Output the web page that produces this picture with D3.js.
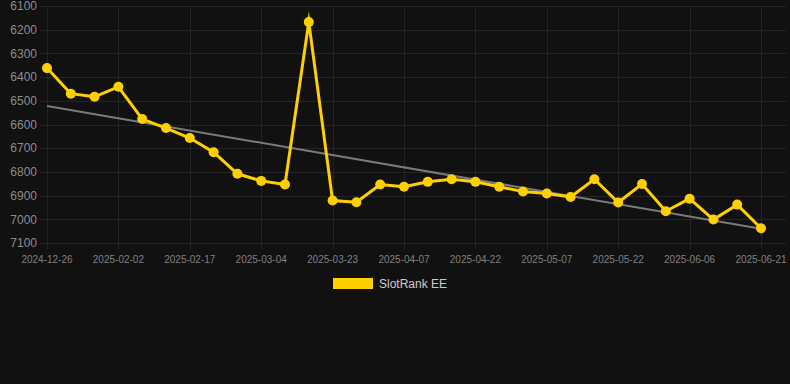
<!DOCTYPE html>
<html>
<head>
<meta charset="utf-8">
<script src="https://cdn.jsdelivr.net/npm/d3@7"></script>
<style>
  html, body { margin: 0; padding: 0; background: #111111; }
  svg { display: block; font-family: "Liberation Sans", Arial, sans-serif; }
</style>
</head>
<body>
<div id="chart"></div>
<script>
// data
const dates = [
  "2024-12-26", "2025-01-08", "2025-01-20", "2025-02-02", "2025-02-07", "2025-02-12",
  "2025-02-17", "2025-02-22", "2025-02-27", "2025-03-04", "2025-03-09", "2025-03-14",
  "2025-03-23", "2025-03-28", "2025-04-02", "2025-04-07", "2025-04-12", "2025-04-17",
  "2025-04-22", "2025-04-27", "2025-05-02", "2025-05-07", "2025-05-12", "2025-05-17",
  "2025-05-22", "2025-05-27", "2025-06-01", "2025-06-06", "2025-06-11", "2025-06-16",
  "2025-06-21"
];
const rank = [
  6362, 6470, 6483, 6441, 6577, 6615,
  6657, 6717, 6808, 6838, 6853, 6168,
  6921, 6928, 6853, 6863, 6842, 6831,
  6842, 6863, 6883, 6891, 6906, 6831,
  6929, 6851, 6966, 6913, 7001, 6938,
  7038
];
const trend = [6522, 7040]; // first and last date
const yTicks = [6100, 6200, 6300, 6400, 6500, 6600, 6700, 6800, 6900, 7000, 7100];
const seriesName = "SlotRank EE";

const width = 790, height = 384;
const gold = "#ffd000";

const svg = d3.select("#chart")
  .append("svg")
  .attr("width", width)
  .attr("height", height);

let x = d3.scalePoint()
  .domain(dates)
  .range([47, 761]);

let y = d3.scaleLinear()
  .domain([6100, 7100])
  .range([6, 243]);

// grid
svg.append("g")
  .selectAll("line")
  .data(yTicks)
  .enter()
  .append("line")
  .attr("x1", 40)
  .attr("x2", 786)
  .attr("y1", d => Math.round(y(d)) + 0.5)
  .attr("y2", d => Math.round(y(d)) + 0.5)
  .attr("stroke", "#242424");

let xTicks = dates.filter((d, i) => i % 3 === 0);

svg.append("g")
  .selectAll("line")
  .data(xTicks)
  .enter()
  .append("line")
  .attr("x1", d => Math.round(x(d)) + 0.5)
  .attr("x2", d => Math.round(x(d)) + 0.5)
  .attr("y1", y(6100))
  .attr("y2", y(7100) + 6)
  .attr("stroke", "#242424");

// y labels
svg.append("g")
  .selectAll("text")
  .data(yTicks)
  .enter()
  .append("text")
  .attr("x", 37)
  .attr("y", d => y(d))
  .attr("dy", "0.35em")
  .attr("text-anchor", "end")
  .attr("font-size", 12)
  .attr("fill", "#8c8c8c")
  .text(d => d);

// x labels
svg.append("g")
  .selectAll("text")
  .data(xTicks)
  .enter()
  .append("text")
  .attr("x", d => x(d))
  .attr("y", 259)
  .attr("dy", "0.35em")
  .attr("text-anchor", "middle")
  .attr("font-size", 10)
  .attr("fill", "#808080")
  .text(d => d);

// trend line
svg.append("line")
  .attr("x1", x(dates[0]))
  .attr("x2", x(dates[dates.length - 1]))
  .attr("y1", y(trend[0]))
  .attr("y2", y(trend[1]))
  .attr("stroke", "#7a7a7a")
  .attr("stroke-width", 2);

// series
let line = d3.line()
  .x((d, i) => x(dates[i]))
  .y(d => y(d));

svg.append("path")
  .datum(rank)
  .attr("d", line)
  .attr("fill", "none")
  .attr("stroke", gold)
  .attr("stroke-width", 3)
  .attr("stroke-linejoin", "miter")
  .attr("stroke-miterlimit", 10);

svg.append("g")
  .selectAll("circle")
  .data(rank)
  .enter()
  .append("circle")
  .attr("cx", (d, i) => x(dates[i]))
  .attr("cy", d => y(d))
  .attr("r", 5)
  .attr("fill", gold);

// legend
let legend = svg.append("g");
legend.append("rect")
  .attr("x", 333)
  .attr("y", 278)
  .attr("width", 40)
  .attr("height", 11)
  .attr("fill", gold);
legend.append("text")
  .attr("x", 379)
  .attr("y", 284)
  .attr("dy", "0.35em")
  .attr("font-size", 12)
  .attr("fill", "#cccccc")
  .text(seriesName);
</script>
</body>
</html>
